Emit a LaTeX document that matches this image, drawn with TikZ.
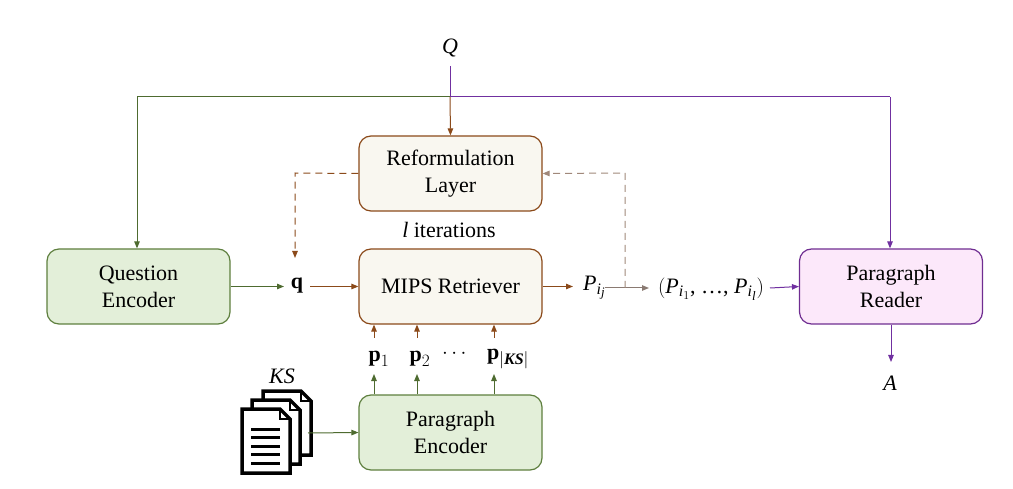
\documentclass[tikz,border=0pt]{standalone}
\usepackage{amsmath}
\usepackage{fontspec}
\setmainfont{Liberation Serif}
\usetikzlibrary{arrows.meta}
\DeclareMathSizes{22}{22}{16}{13}
\definecolor{gborder}{HTML}{5E7F3E}
\definecolor{gfill}{HTML}{E3EFD9}
\definecolor{bborder}{HTML}{8B4A1A}
\definecolor{bfill}{HTML}{F9F7F0}
\definecolor{pborder}{HTML}{6F2D91}
\definecolor{pfill}{HTML}{FCE8FA}
\definecolor{garrow}{HTML}{4E6B30}
\definecolor{barrow}{HTML}{8B4A1A}
\definecolor{parrow}{HTML}{7030A0}
\definecolor{grayarrow}{HTML}{8A7A72}
\definecolor{dashc}{HTML}{A0887A}
\newcommand{\mi}[1]{\textit{#1}}
\newcommand{\mb}[1]{\textbf{#1}}
\tikzset{
  box/.style={rounded corners=12pt, line width=1.2pt, minimum width=183pt, minimum height=75pt, align=center, inner sep=0pt, font=\fontsize{22}{27}\selectfont},
  gbox/.style={box, draw=gborder, fill=gfill},
  bbox/.style={box, draw=bborder, fill=bfill},
  pbox/.style={box, draw=pborder, fill=pfill},
  lab/.style={inner sep=0pt, font=\fontsize{22}{26}\selectfont},
  tip/.style={-{Triangle[length=7pt,width=5.5pt]}},
  garr/.style={tip, draw=garrow, line width=1pt},
  barr/.style={tip, draw=barrow, line width=1pt},
  parr/.style={tip, draw=parrow, line width=1pt},
  dasharr/.style={tip, draw=barrow, line width=1pt, dash pattern=on 7pt off 5pt},
  page/.style={draw=black, fill=white, line width=3.5pt, line join=miter},
}
\begin{document}
\begin{tikzpicture}[x=1pt,y=-1pt]
\useasboundingbox (0,0) rectangle (1013,489);

% boxes
\node[gbox] (qe) at (138.5,286.5) {Question\\Encoder};
\node[bbox] (rl) at (450.5,173.5) {Reformulation\\Layer};
\node[bbox] (mips) at (450.5,286.5) {MIPS Retriever};
\node[gbox] (pe) at (450.5,432.5) {Paragraph\\Encoder};
\node[pbox] (pr) at (891,286.5) {Paragraph\\Reader};

% labels
\node[lab] (Q) at (450,48) {\mi{Q}};
\node[lab] (iter) at (449,230) {\mi{l} iterations};
\node[lab] (q) at (297,286) {\mb{q}};
\node[lab, anchor=west] (pij) at (583,288) {$\mi{P}_{\mi{i}_{\mi{j}}}$};
\node[lab] (plist) at (711,289) {$($\mi{P}$_{\mi{i}_{1}}$, \ldots, \mi{P}$_{\mi{i}_{\mi{l}}})$};
\node[lab] (A) at (890,383) {\mi{A}};
\node[lab] (p1) at (379,359) {$\mb{p}_1$};
\node[lab] (p2) at (420,359) {$\mb{p}_2$};
\node[lab] (pd) at (456,354) {$\cdots$};
\node[lab] (pks) at (508,359) {$\mb{p}_{|\mb{\mi{KS}}|}$};
\node[lab] (ks) at (282,376) {\mi{KS}};

% coordinates
\coordinate (top) at (450,97);
\coordinate (qtop) at (450,66);
\coordinate (gcorner) at (137,97);
\coordinate (pcorner) at (890,97);
\coordinate (dl) at (295,173);
\coordinate (dr) at (625,173);
\coordinate (dbot) at (625,288);
\coordinate (pijr) at (605,288);
\coordinate (qin) at (284,286.5);
\coordinate (qout) at (310,286.5);
\coordinate (pijin) at (573,286.5);
\coordinate (plistr) at (649,288);
\coordinate (plistout) at (770,288);
\coordinate (aout) at (891,362);
\coordinate (dq) at (295,258);

% Q lines
\draw[draw=parrow, line width=1pt] (qtop) -- (top);
\draw[draw=garrow, line width=1pt] (top) -- (gcorner);
\draw[garr] (gcorner) -- (qe.north -| gcorner);
\draw[draw=parrow, line width=1pt] (top) -- (pcorner);
\draw[parr] (pcorner) -- (pr.north -| pcorner);
\draw[barr] (top) -- (rl.north);

% main flow
\draw[garr] (qe.east) -- (qin);
\draw[barr] (qout) -- (mips.west);
\draw[barr] (mips.east) -- (pijin);
\draw[tip, draw=grayarrow, line width=1pt] (pijr) -- (plistr);
\draw[parr] (plistout) -- (pr.west);
\draw[parr] (pr.south) -- (aout);

% dashed feedback
\draw[dasharr] (rl.west) -- (dl) -- (dq);
\draw[dasharr, draw=dashc] (dbot) -- (dr) -- (rl.east);

% p arrows
\foreach \xx in {374,417,494}{
  \path (\xx,338) coordinate (pa) (\xx,374) coordinate (pb);
  \draw[barr] (pa) -- (pa |- mips.south);
  \draw[garr] (pb |- pe.north) -- (pb);
}

% documents icon
\foreach \dx/\dy in {21/-18,10/-9,0/0}{
  \begin{scope}[shift={(\dx,\dy)}]
    \draw[page] (242,409) -- (280,409) -- (290,419) -- (290,473) -- (242,473) -- cycle;
    \draw[black, line width=2pt] (280,409) -- (280,419) -- (290,419);
  \end{scope}
}
\foreach \yy in {429,437.5,446,454.5,463}{
  \draw[black, line width=3pt] (251,\yy) -- (280,\yy);
}
\coordinate (docs) at (308,433);
\draw[garr] (docs) -- (pe.west);
\end{tikzpicture}
\end{document}
